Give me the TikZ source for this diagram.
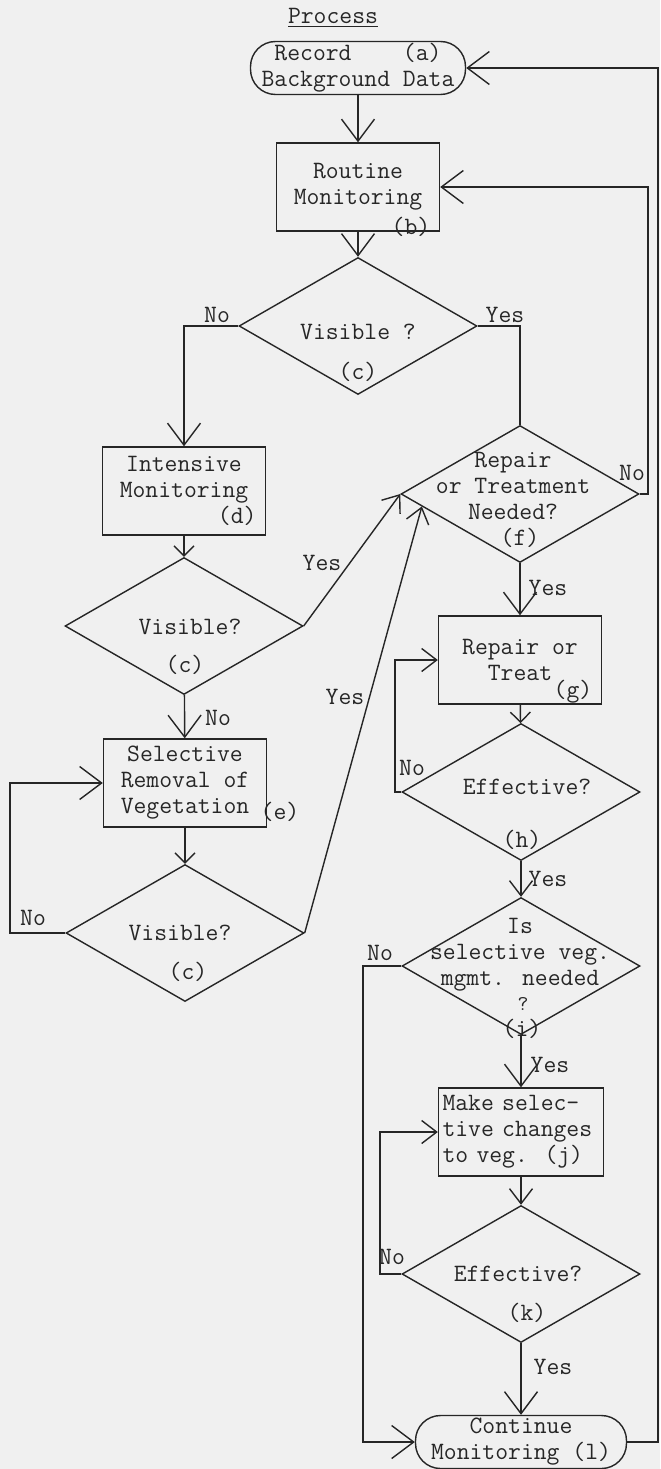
\documentclass[tikz,border=0pt]{standalone}
\usetikzlibrary{arrows.meta,shapes.geometric,calc}

\tikzset{
  every node/.style={font=\ttfamily\fontsize{14.2}{14.8}\selectfont},
  terminal/.style={draw,rectangle,rounded corners=0.5cm,minimum width=4.3cm,minimum height=1.06cm,inner sep=0pt,align=center},
  process/.style={draw,rectangle,minimum width=3.26cm,minimum height=1.76cm,inner sep=2pt,align=center},
  decision/.style={draw,diamond,minimum width=4.76cm,minimum height=2.74cm,inner sep=0pt},
  txt/.style={inner sep=0pt,align=center},
  lbl/.style={inner sep=0pt},
  big/.style={-{Straight Barb[length=0.44cm,width=0.66cm]}},
  medium/.style={-{Straight Barb[length=0.3cm,width=0.46cm]}},
  small/.style={-{Straight Barb[length=0.2cm,width=0.4cm]}}
}

\begin{document}
\begin{tikzpicture}[x=0.02cm,y=-0.02cm,line width=0.8pt,color=black!85]
        \fill[black!6] (0,0) rectangle (660,1469);
        \useasboundingbox (0,0) rectangle (660,1469);
        \node[txt] (title) at (333,18) {\underline{Process}};
        \node[terminal] (a) at (358,68) {Record~~~~(a)\\Background Data};
        \node[process] (b) at (358,187) {Routine\\Monitoring};
        \node[txt] (btag) at (411,227) {(b)};
        \node[decision] (c1) at (358,326) {};
        \node[txt] (c1t) at (358,332) {Visible ?};
        \node[txt] (c1tag) at (358,372) {(c)};
        \node[process,text width=2.9cm] (d) at (184,491) {Intensive\\Monitoring\\\hfill(d)};
        \node[decision] (c2) at (184,626) {};
        \node[txt] (c2t) at (190,627) {Visible?};
        \node[txt] (c2tag) at (185,665) {(c)};
        \node[process] (e) at (185,783) {Selective\\Removal of\\Vegetation};
        \node[txt] (etag) at (280,812) {(e)};
        \node[decision] (c3) at (185,933) {};
        \node[txt] (c3t) at (180,933) {Visible?};
        \node[txt] (c3tag) at (188,972) {(c)};
        \node[decision] (f) at (520,494) {};
        \node[txt] (ft) at (513,486) {Repair\\or Treatment\\Needed?};
        \node[txt] (ftag) at (520,538) {(f)};
        \node[process] (g) at (520,660) {Repair or\\Treat};
        \node[txt] (gtag) at (573,692) {(g)};
        \node[decision] (h) at (521,792) {};
        \node[txt] (ht) at (527,787) {Effective?};
        \node[txt] (htag) at (522,840) {(h)};
        \node[decision] (i) at (521,966) {};
        \node[txt] (it) at (520,955) {Is\\selective veg.\\mgmt. needed};
        \node[txt,font=\ttfamily\fontsize{12}{12}\selectfont] (iq) at (523,1004) {?};
        \node[txt] (itag) at (522,1029) {(i)};
        \node[process,minimum width=3.3cm,text width=3.14cm,align=left] (j) at (521,1132) {Make selec-\\tive changes\\to veg.~~(j)};
        \node[decision] (k) at (521,1274) {};
        \node[txt] (kt) at (518,1274) {Effective?};
        \node[txt] (ktag) at (527,1313) {(k)};
        \node[terminal,minimum width=4.22cm] (l) at (521,1442) {Continue\\Monitoring (l)};
        \node[lbl] (n1) at (217,315) {No};
        \node[lbl] (y1) at (505,315) {Yes};
        \node[lbl] (n2) at (632,473) {No};
        \node[lbl] (y2) at (322,563) {Yes};
        \node[lbl] (n3) at (218,718) {No};
        \node[lbl] (y3) at (345,697) {Yes};
        \node[lbl] (y4) at (548,588) {Yes};
        \node[lbl] (n4) at (33,918) {No};
        \node[lbl] (n5) at (412,768) {No};
        \node[lbl] (y5) at (548,879) {Yes};
        \node[lbl] (n6) at (380,953) {No};
        \node[lbl] (y6) at (550,1065) {Yes};
        \node[lbl] (n7) at (392,1257) {No};
        \node[lbl] (y7) at (553,1367) {Yes};
        \coordinate (rf) at (648,0);
        \coordinate (ra) at (658,0);
        \coordinate (le) at (10,0);
        \coordinate (lh) at (395,0);
        \coordinate (li) at (363,0);
        \coordinate (lk) at (380,0);
        \draw[big] (a) -- (b);
        \draw[big] (b) -- (c1);
        \draw[big] (c1.west) -| (d.north);
        \draw (c1.east) -| (f.north);
        \draw[big] (f.east) -- (f.east -| rf) |- (b.east);
        \draw[small] (d) -- (c2);
        \draw[medium] (c2.east) -- (f.west);
        \draw[big] (c2) -- (e);
        \draw[small] (e) -- (c3);
        \draw[big] (c3.west) -- (c3.west -| le) |- (e.west);
        \draw[medium] (c3.east) -- ($(f.west)!0.18!(f.south)$);
        \draw[big] (f) -- (g);
        \draw[small] (g) -- (h);
        \draw[medium] (h.west) -- (h.west -| lh) |- (g.west);
        \draw[medium] (h) -- (i);
        \draw[big] (i) -- (j);
        \draw[big] (i.west) -- (i.west -| li) |- (l.west);
        \draw[medium] (j) -- (k);
        \draw[medium] (k.west) -- (k.west -| lk) |- (j.west);
        \draw[big] (k) -- (l);
        \draw[big] (l.east) -- (l.east -| ra) |- (a.east);
      \end{tikzpicture}
\end{document}
